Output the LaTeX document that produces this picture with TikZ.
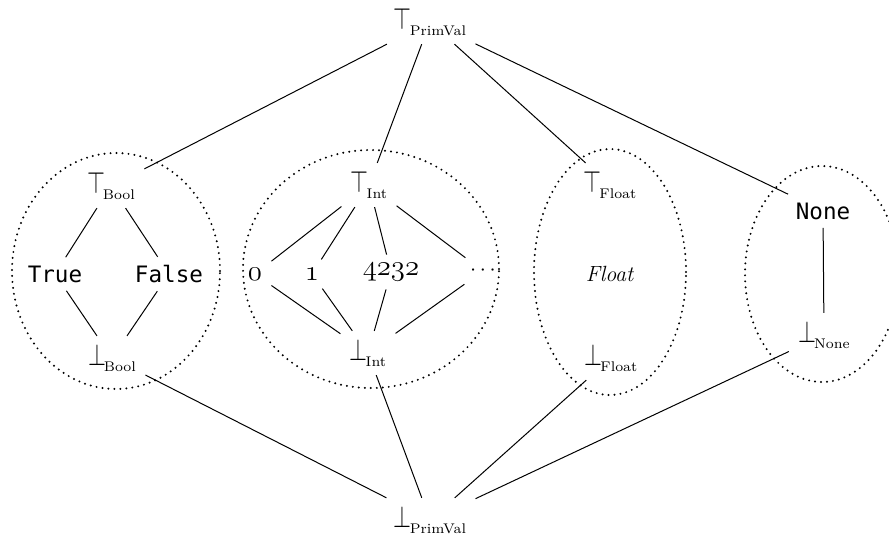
\documentclass[tikz,border=0pt]{standalone}
\usepackage{fontspec}
\usepackage{graphicx}
\usetikzlibrary{shapes.geometric}
\newfontfamily\codefont{DejaVu Sans Mono}
% lattice element labels: top / bottom symbol with a small subscript name
\newcommand\toplbl[1]{\scalebox{1.05}[1.4]{$\top$}\kern-1pt\raisebox{-3pt}{\fontsize{7}{8}\selectfont #1}}
\newcommand\botlbl[1]{\scalebox{1.05}[1.4]{$\bot$}\kern-1pt\raisebox{-3pt}{\fontsize{7}{8}\selectfont #1}}
\begin{document}
\begin{tikzpicture}[x=0.5pt,y=-0.5pt,
  font=\fontsize{11}{13}\selectfont,
  lbl/.style={inner xsep=4.5pt, inner ysep=4pt},
  code/.style={lbl, font=\codefont\fontsize{11.3}{13}\selectfont},
  num/.style={lbl, font=\fontsize{13.5}{15}\selectfont},
  edge/.style={line width=0.5pt},
  group/.style={draw, ellipse, inner sep=0pt, line width=1.1pt,
    dash pattern=on 0pt off 3pt, line cap=round}]
\useasboundingbox (0,0) rectangle (889,537);
\clip (0,0) rectangle (889,537);

% groups of values of each primitive type
\node[group, minimum width=104pt, minimum height=118pt] (boolset)  at (116,271) {};
\node[group, minimum width=128pt, minimum height=119pt] (intset)   at (371,269) {};
\node[group, minimum width=76pt,  minimum height=123pt] (floatset) at (610,272) {};
\node[group, minimum width=77pt,  minimum height=108pt] (noneset)  at (822,274) {};

% overall top and bottom
\node[lbl] (top) at (430,22)  {\toplbl{PrimVal}};
\node[lbl] (bot) at (430,520) {\botlbl{PrimVal}};

% Bool
\node[lbl]  (tbool) at (111,186) {\toplbl{Bool}};
\node[lbl]  (bbool) at (112,358) {\botlbl{Bool}};
\node[code] (true)  at (55,274)  {True};
\node[code] (false) at (169,274) {False};

% Int
\node[lbl] (tint) at (369,185) {\toplbl{Int}};
\node[lbl] (bint) at (368,353) {\botlbl{Int}};
\node[num] (zero) at (255,274) {$\mathnormal{0}$};
\node[num] (one)  at (312,274) {$\mathnormal{1}$};
\node[num] (big)  at (391,272) {$\mathnormal{4232}$};
\node[lbl] (more) at (483,271) {$\cdots$};

% Float
\node[lbl] (tfloat) at (610,185) {\toplbl{Float}};
\node[lbl] (bfloat) at (611,358) {\botlbl{Float}};
\node[lbl] (flt)    at (610,274) {\textit{Float}};

% None
\node[code] (none)  at (823,211) {None};
\node[lbl]  (bnone) at (824,335) {\botlbl{None}};

% order inside the groups
\draw[edge] (tbool) -- (true);
\draw[edge] (tbool) -- (false);
\draw[edge] (true)  -- (bbool);
\draw[edge] (false) -- (bbool);

\draw[edge] (tint) -- (zero);
\draw[edge] (tint) -- (one);
\draw[edge] (tint) -- (big);
\draw[edge] (tint) -- (more);
\draw[edge] (zero) -- (bint);
\draw[edge] (one)  -- (bint);
\draw[edge] (big)  -- (bint);
\draw[edge] (more) -- (bint);

\draw[edge] (none) -- (bnone);

% links to the overall top and bottom
\draw[edge] (top) -- (tbool);
\draw[edge] (top) -- (tint);
\draw[edge] (top) -- (tfloat);
\draw[edge] (top) -- (none);
\draw[edge] (bbool)  -- (bot);
\draw[edge] (bint)   -- (bot);
\draw[edge] (bfloat) -- (bot);
\draw[edge] (bnone)  -- (bot);
\end{tikzpicture}
\end{document}
